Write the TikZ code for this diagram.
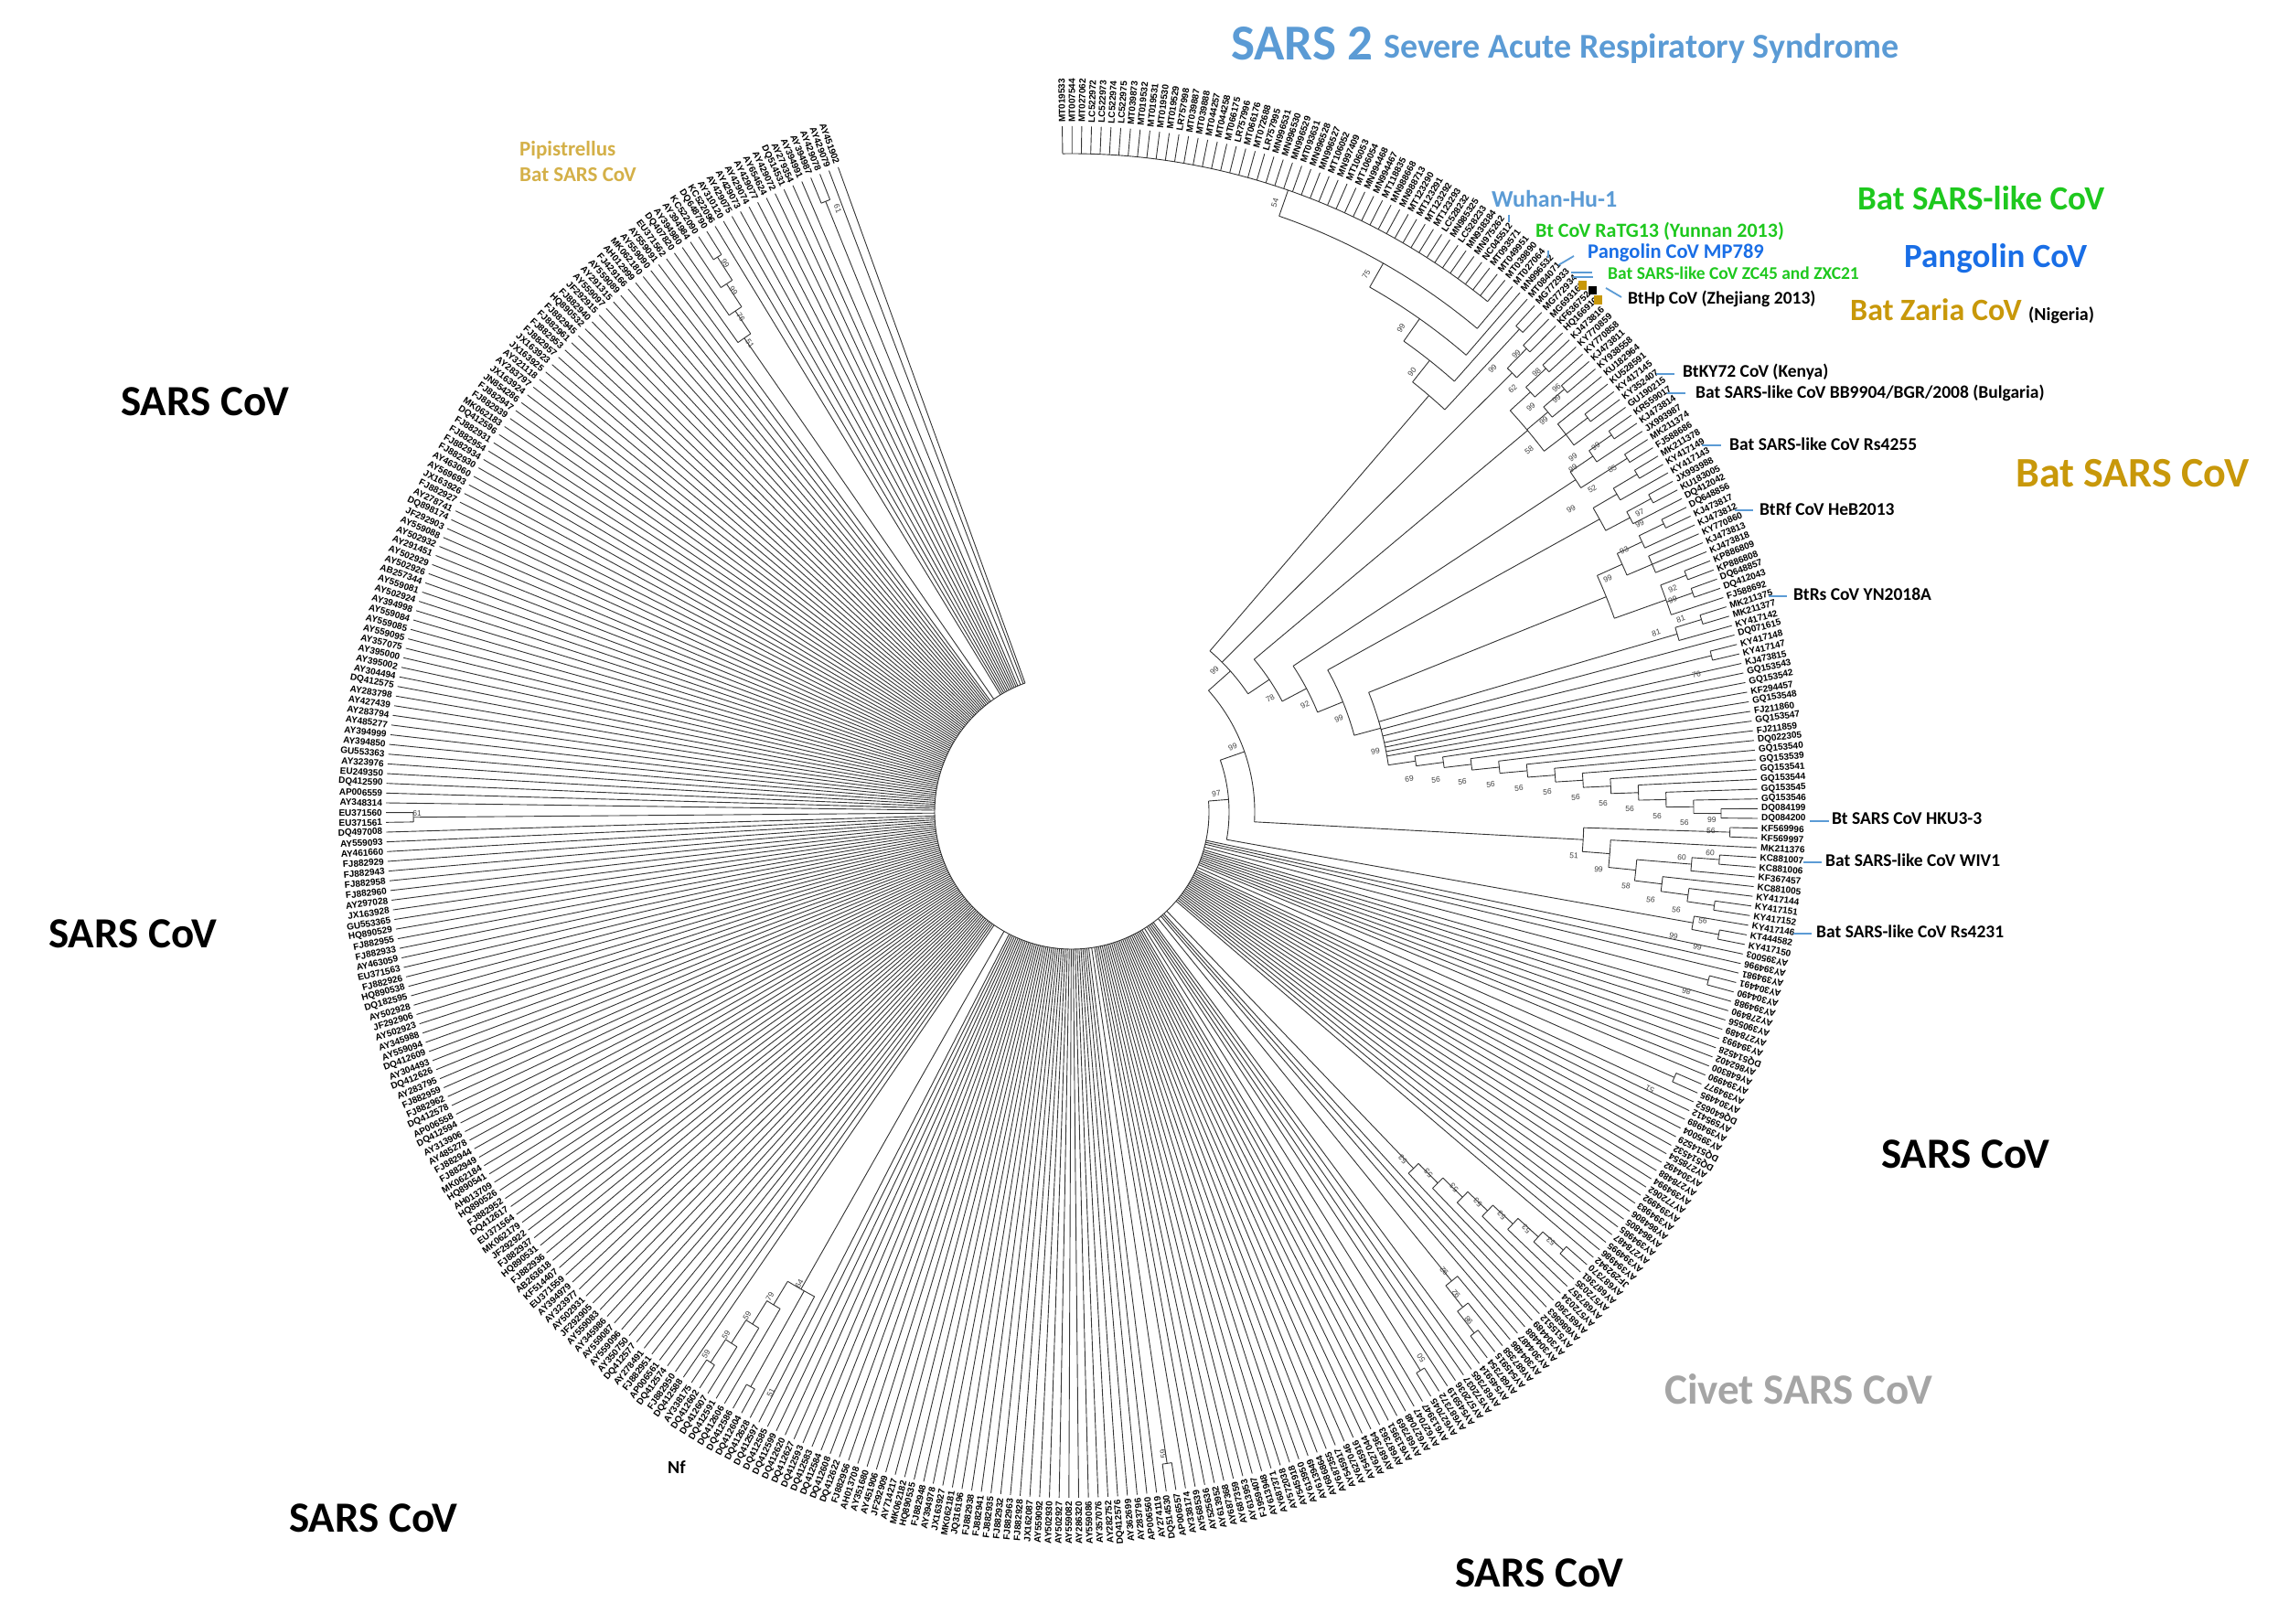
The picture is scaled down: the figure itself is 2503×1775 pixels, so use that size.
\documentclass[tikz,border=0pt]{standalone}
\usepackage{fontspec}
\setmainfont{Liberation Sans}
\newfontfamily\calfont{Carlito}
\newfontfamily\arialf{Liberation Sans}
\definecolor{sarsblue}{RGB}{91,155,213}
\definecolor{batgreen}{RGB}{30,200,30}
\definecolor{pangblue}{RGB}{25,110,230}
\definecolor{batgold}{RGB}{200,152,10}
\definecolor{pipgold}{RGB}{212,176,72}
\definecolor{civgray}{RGB}{165,165,165}
\def\setrz#1#2{\expandafter\gdef\csname rz#1\endcsname{#2}}
\newcommand\LA[1]{90.8-0.8155*(#1)}
\tikzset{
  br/.style={line width=0.9pt, draw=black!80},
  lfr/.style={font=\arialf\bfseries\fontsize{10}{10}\selectfont, inner sep=0pt, anchor=west},
  lfl/.style={font=\arialf\bfseries\fontsize{10}{10}\selectfont, inner sep=0pt, anchor=east},
  bs/.style={font=\arialf\fontsize{8.5}{8.5}\selectfont, inner sep=0pt, text=black!75},
  bigl/.style={font=\calfont\bfseries, inner sep=0pt, anchor=base west},
  ldr/.style={line width=1.8pt, draw=sarsblue}
}
\newcommand\nd[3]{\draw[br] ({\LA{#2}}:#1) arc[start angle={\LA{#2}}, end angle={\LA{#3}}, radius=#1];}
\newcommand\st[3]{\draw[br] ({\LA{#1}}:#2) -- ({\LA{#1}}:#3);}
\setrz{129}{720}\setrz{130}{720}\setrz{140}{720}\setrz{141}{720}
\setrz{162}{720}\setrz{163}{720}\setrz{164}{690}\setrz{165}{660}\setrz{166}{630}\setrz{167}{600}\setrz{168}{570}\setrz{169}{540}
\setrz{173}{660}\setrz{174}{690}\setrz{175}{720}\setrz{176}{720}
\setrz{182}{720}\setrz{183}{720}\setrz{211}{720}\setrz{212}{720}
\setrz{256}{600}\setrz{257}{720}\setrz{258}{720}\setrz{259}{630}\setrz{260}{660}\setrz{261}{690}\setrz{262}{720}\setrz{263}{720}
\setrz{331}{720}\setrz{332}{720}
\setrz{399}{630}\setrz{400}{660}\setrz{401}{690}\setrz{402}{720}\setrz{403}{720}
\setrz{415}{720}\setrz{416}{720}
\begin{document}
\begin{tikzpicture}[x=1pt,y=1pt]
\fill[white] (0,0) rectangle (2503,1775);
\useasboundingbox (0,0) rectangle (2503,1775);
\begin{scope}[shift={(1172,887)}]
% ---------- bat + SARS2 leaves
\foreach \lab/\rz [count=\i from 0] in {MT019533/720,MT007544/720,MT027062/720,LC522972/720,LC522973/720,LC522974/720,LC522975/720,MT039873/720,MT019532/720,MT019531/720,MT019530/720,MT019529/720,LR757998/720,MT039887/720,MT039888/720,MT044257/720,MT044258/720,MT066175/720,LR757996/720,MT066176/720,MT072688/720,LR757995/720,MN996531/720,MN996530/720,MN996529/720,MT093631/720,MN996528/720,MN996527/720,MT106052/720,MN997409/720,MT106053/720,MT106054/720,MN994468/720,MN994467/720,MT118835/720,MN988668/720,MN988713/720,MT123290/720,MT123291/720,MT123292/720,MT123293/720,LC528232/720,MN985325/720,LC528233/720,MN938384/720,MN975262/720,NC045512/720,MT093571/720,MT049951/720,MT039890/720,
MT027064/690,MN996532/660,MT084071/630,MG772933/720,MG772934/720,
MG693168/710,KF636752/710,HQ166910/680,KJ473816/710,KY770859/710,KY770858/680,KJ473811/710,KY938558/710,KU182964/680,KU528591/680,
KY417145/710,KY352407/710,GU190215/680,KR559017/720,KJ473814/720,JX993987/690,MK211374/720,FJ588686/720,MK211378/720,KY417149/720,KY417143/690,JX993988/720,KU183005/720,DQ412042/690,
DQ648856/720,KJ473817/720,KJ473812/690,KY770860/690,KJ473813/690,KJ473818/690,KP886809/720,KP886808/720,DQ648857/720,DQ412043/720,FJ588692/690,
MK211375/720,MK211377/720,KY417142/690,DQ071615/350,KY417148/720,KY417147/720,KJ473815/350,GQ153543/350,GQ153542/350,KF294457/350,
GQ153548/380,FJ211860/410,GQ153547/440,FJ211859/470,DQ022305/500,GQ153540/530,GQ153539/560,GQ153541/590,GQ153544/620,GQ153545/650,GQ153546/680,DQ084199/710,DQ084200/710,
KF569996/720,KF569997/720,MK211376/590,KC881007/710,KC881006/710,KF367457/680,KC881005/650,KY417144/680,KY417151/710,KY417152/710,KY417146/690,KT444582/720,KY417150/720}
{
  \draw[br] ({\LA{\i}}:\rz) -- ({\LA{\i}}:750);
  \node[lfr, rotate={\LA{\i}}] (lf\i) at ({\LA{\i}}:754) {\lab};
}
% ---------- SARS CoV leaves
\foreach \lab [count=\i from 126] in {AY395003,AY394996,AY394981,AY304491,AY304490,AY394988,AY278490,AY390556,AY278489,AY394993,DQ514528,AY862402,AY648300,AY394990,AY394977,AY304495,DQ640652,AY595412,AY394989,AY395004,DQ514529,DQ514532,AY278554,AY304492,AY278488,AY394994,AY772062,AY394992,AY394983,AY864806,AY864805,AY394985,AY278487,AY394995,AY394986,JF292942,AY687370,AY687361,AY572035,AY687357,AY572034,AY687360,AY686863,AY515512,AY304489,AY304488,AY304487,AY304486,AY687358,AY545915,AY687354,AY545914,AY687365,AY572037,AY572036,AY545919,AY687372,AY627045,AY613947,AY627047,AY627048,AY687369,AY613951,AY687363,AY687364,AY627044,AY545916,AY627046,AY545917,AY687355,AY686864,AY613949,AY613950,AY545918,AY572038,AY687371,AY613948,FJ959407,AY613953,AY687359,AY687368,AY613952,AY525636,AY568539,AY338174,AP006557,DQ514530,AY274119,AP006560,AY283796,AY362699,DQ412576,AY282752,AY357076,
AY559086,AY286320,AY559082,AY502927,AY502930,AY559092,JX162087,FJ882928,FJ882963,FJ882932,FJ882935,FJ882941,FJ882938,JQ316196,MK062181,JX163927,AY394978,FJ882948,HQ890535,MK062182,AY714217,JF292909,AY451906,AY351680,AH013708,FJ882956,DQ412622,DQ412608,DQ412584,DQ412583,DQ412593,DQ412627,DQ412620,DQ412599,DQ412585,DQ412597,DQ412628,DQ412604,DQ412586,DQ412606,DQ412591,DQ412607,DQ412602,AY338175,DQ412588,
FJ882950,DQ412574,AP006561,FJ882951,AY278491,DQ412577,AY350750,AY559096,AY559087,AY345986,AY559083,JF292905,AY502931,AY323977,AY394979,EU371559,KF514407,AB263618,FJ882936,HQ890531,FJ882937,JF292922,MK062179,EU371564,DQ412617,FJ882952,HQ890526,AH013709,HQ890541,MK062184,FJ882949,FJ882944,AY485278,AY313906,DQ412594,AP006558,DQ412578,FJ882962,FJ882959,AY283795,DQ412626,AY304493,DQ412609,AY559094,AY345988,AY502923,JF292906,AY502928,DQ182595,HQ890538,
FJ882926,EU371563,AY463059,FJ882933,FJ882955,HQ890529,GU553365,JX163928,AY297028,FJ882960,FJ882958,FJ882943,FJ882929,AY461660,AY559093,DQ497008,EU371561,EU371560,AY348314,AP006559,DQ412590,EU249350,AY323976,GU553363,AY394850,AY394999,AY485277,AY283794,AY427439,AY283798,DQ412575,AY304494,AY395002,AY395000,AY357075,AY559095,AY559085,AY559084,
AY394998,AY502924,AY559081,AB257344,AY502926,AY502929,AY291451,AY502932,AY559088,JF292903,DQ898174,AY278741,FJ882927,JX163926,AY569693,AY463060,FJ882930,FJ882934,FJ882954,FJ882931,DQ412596,MK062183,FJ882939,FJ882947,JN854286,JX163924,AY283797,AY321118,JX163925,JX163923,FJ882957,FJ882953,FJ882961,FJ882945,HQ890532,FJ882940,JF292915,AY559097,AY291315,AY559089,FJ429166,AH012999,MK062180,AY559090,AY559091,EU371562,DQ407820,AY394980,AY394984,KC522090,DQ648790,KC522096,AY310120,AY429075,AY429073,AY429074,AY429077,AY654624,AY429072,DQ514531,AY279354,AY394991,AY394987,AY429078,AY429079,AY451902}
{
  \ifcsname rz\i\endcsname \edef\rr{\csname rz\i\endcsname}\else\def\rr{150}\fi
  \draw[br] ({\LA{\i}}:\rr) -- ({\LA{\i}}:750);
  \node[lfl, rotate={\LA{\i}+180}] (lf\i) at ({\LA{\i}}:754) {\lab};
}
% ---------- SARS2 clade
\nd{720}{0}{49} \st{24.5}{690}{720}
\nd{690}{24.5}{50} \st{37.25}{660}{690}
\nd{660}{37.25}{51} \st{44.125}{630}{660}
\nd{630}{44.125}{52} \st{48.0625}{600}{630}
\nd{720}{53}{54} \st{53.5}{600}{720}
\nd{600}{48.0625}{53.5} \st{50.78}{232}{600}
% ---------- AFa (under N99b)
\nd{710}{55}{56} \st{55.5}{680}{710} \nd{680}{55.5}{57} \st{56.25}{232}{680}
% ---------- AFb (under N78)
\nd{710}{58}{59} \st{58.5}{680}{710} \nd{680}{58.5}{60} \st{59.25}{650}{680}
\nd{710}{61}{62} \st{61.5}{680}{710} \nd{680}{61.5}{63} \st{62.25}{650}{680}
\nd{710}{65}{66} \st{65.5}{680}{710} \nd{680}{64}{67} \st{65.5}{650}{680}
\nd{650}{59.25}{65.5} \st{62.375}{260}{650}
% ---------- G2 (under N92)
\nd{720}{68}{69} \st{68.5}{690}{720} \nd{690}{68.5}{70} \st{69.25}{660}{690}
\nd{720}{71}{72} \st{71.5}{660}{720}
\nd{660}{69.25}{71.5} \st{70.375}{290}{660}
% ---------- G3 (under N99d)
\nd{720}{73}{74} \st{73.5}{690}{720} \nd{690}{73.5}{75} \st{74.25}{660}{690}
\nd{720}{76}{77} \st{76.5}{690}{720} \nd{690}{76.5}{78} \st{77.25}{660}{690}
\nd{660}{74.25}{77.25} \st{75.75}{320}{660}
% ---------- G4 (under N99e)
\nd{720}{79}{80} \st{79.5}{690}{720} \nd{690}{79.5}{81} \st{80.25}{660}{690}
\nd{690}{82}{84} \st{83}{660}{690}
\nd{660}{80.25}{83} \st{81.625}{630}{660}
\nd{720}{85}{86} \st{85.5}{690}{720} \nd{720}{87}{88} \st{87.5}{690}{720}
\nd{690}{85.5}{89} \st{87.25}{630}{690}
\nd{630}{81.625}{87.25} \st{84.44}{350}{630}
% ---------- N99e group
\nd{720}{90}{91} \st{90.5}{690}{720} \nd{690}{90.5}{92} \st{91.25}{350}{690}
\nd{720}{94}{95} \st{94.5}{350}{720}
\foreach \j/\nx in {0/101.9995,1/102.999,2/103.998,3/104.996,4/105.992,5/106.984,6/107.969,7/108.938,8/109.875,9/110.75,10/111.5}{
  \pgfmathsetmacro\ra{380+30*\j}\pgfmathsetmacro\rb{410+30*\j}
  \nd{\ra}{100+\j}{\nx} \st{\nx}{\ra}{\rb}
}
\nd{710}{111}{112}
\st{101}{350}{380}
\nd{350}{84.44}{101} \st{92.72}{320}{350}
% ---------- backbone
\nd{320}{75.75}{92.72} \st{84.235}{290}{320}
\nd{290}{70.375}{84.235} \st{77.305}{260}{290}
\nd{260}{62.375}{77.305} \st{69.84}{232}{260}
\nd{232}{50.78}{69.84} \st{60.31}{200}{232}
% ---------- N51 group
\nd{720}{113}{114} \st{113.5}{560}{720}
\nd{710}{116}{117} \st{116.5}{680}{710} \nd{680}{116.5}{118} \st{117.25}{620}{680}
\nd{710}{121}{122} \st{121.5}{680}{710} \nd{680}{120}{121.5} \st{120.75}{650}{680}
\nd{650}{119}{120.75} \st{119.875}{620}{650}
\nd{620}{117.25}{119.875} \st{118.5625}{590}{620}
\nd{590}{115}{118.5625} \st{116.78}{560}{590}
\nd{560}{113.5}{116.78} \st{115.14}{200}{560}
\nd{200}{60.31}{115.14} \st{87.725}{172}{200}
\nd{720}{124}{125} \st{124.5}{690}{720} \nd{690}{123}{124.5} \st{123.75}{172}{690}
\nd{172}{87.725}{123.75} \st{105.74}{150}{172}
% ---------- central node
\nd{150}{105.74}{418}
% ---------- SARS CoV sub-clades
\nd{720}{129}{130} \st{129.5}{150}{720}
\nd{720}{140}{141} \st{140.5}{150}{720}
\nd{720}{162}{163} \st{162.5}{690}{720}
\nd{690}{162.5}{164} \st{163.25}{660}{690}
\nd{660}{163.25}{165} \st{164.125}{630}{660}
\nd{630}{164.125}{166} \st{165.0625}{600}{630}
\nd{600}{165.0625}{167} \st{166.03}{570}{600}
\nd{570}{166.03}{168} \st{167.016}{540}{570}
\nd{540}{167.016}{169} \st{168.008}{150}{540}
\nd{720}{175}{176} \st{175.5}{690}{720}
\nd{690}{174}{175.5} \st{174.75}{660}{690}
\nd{660}{173}{174.75} \st{173.875}{150}{660}
\nd{720}{182}{183} \st{182.5}{150}{720}
\nd{720}{211}{212} \st{211.5}{150}{720}
\nd{720}{262}{263} \st{262.5}{690}{720}
\nd{690}{261}{262.5} \st{261.75}{660}{690}
\nd{660}{260}{261.75} \st{260.875}{630}{660}
\nd{630}{259}{260.875} \st{259.94}{600}{630}
\nd{720}{257}{258} \st{257.5}{600}{720}
\nd{600}{256}{259.94} \st{257.97}{150}{600}
\nd{720}{331}{332} \st{331.5}{150}{720}
\nd{720}{402}{403} \st{402.5}{690}{720}
\nd{690}{401}{402.5} \st{401.75}{660}{690}
\nd{660}{400}{401.75} \st{400.875}{630}{660}
\nd{630}{399}{400.875} \st{399.94}{150}{630}
\nd{720}{415}{416} \st{415.5}{150}{720}
\end{scope}
% ---------- bootstrap values
\foreach \bx/\by/\bt/\br [count=\n] in {1330/868/97/7,1348/817/99/22,1328/733/99/45,1389/764/78/30,1427/771/92/25,1464/786/99/19,1504/822/99/11,
1541/852/69/6,1570/853/56/5,1599/855/56/4,1630/858/56/4,1661/862/56/3,1692/866/56/2,1723/872/56/2,1753/879/56/1,1782/885/56/0,1812/893/56/0,1842/900/56/-1,1872/897/99/-1,1871/909/56/-1,
1721/936/51/-5,1748/951/99/-6,1839/938/60/-4,1870/933/60/-4,1778/969/58/-8,1805/984/56/-9,1833/995/56/-9,1862/1007/56/-10,1830/1024/99/-12,1856/1036/99/-12,
1838/677/81/18,1811/692/81/17,1855/738/76/12,1829/644/92/20,1829/656/99/20,1758/633/99/23,1776/602/93/25,1793/561/97/27,1793/573/99/27,1718/557/99/31,1741/535/52/32,1763/513/85/32,1720/500/99/35,1720/512/99/35,1745/488/99/35,1672/492/58/38,1688/460/99/40,1702/424/96/41,1702/436/99/41,1674/445/99/41,1654/425/62/44,1680/407/98/43,1632/403/99/46,1658/387/99/46,
1394/222/54/72,1494/300/75/61,1532/359/99/56,1544/407/90/52,
1844/1084/86/164,1804/1191/51/154,1534/1268/53/134,1562/1283/53/135,1590/1299/53/135,1616/1315/53/136,1642/1329/53/137,1669/1344/53/137,1696/1358/53/138,1579/1390/92/129,1592/1415/92/129,1606/1444/98/128,1554/1485/50/123,1272/1590/59/98,
874/1404/64/60,842/1418/79/58,817/1439/59/57,794/1460/59/57,772/1481/59/56,843/1523/51/63,456/890/61/0,
916/228/61/-69,793/288/99/-58,802/318/99/-57,810/347/76/-56,820/376/51/-55}
{ \node[bs, rotate=\br] (bs\n) at (\bx,1775-\by) {\bt}; }
% ---------- group labels
\node[bigl, text=sarsblue, font=\calfont\bfseries\fontsize{55}{55}\selectfont] (sars2) at (1346,1775-66) {SARS 2};
\node[bigl, text=sarsblue, font=\calfont\bfseries\fontsize{38}{38}\selectfont] (sars2b) at (1513,1775-64) {Severe Acute Respiratory Syndrome};
\node[bigl, text=batgreen, font=\calfont\bfseries\fontsize{37}{37}\selectfont] (batsl) at (2031,1775-230) {Bat SARS-like CoV};
\node[bigl, text=pangblue, font=\calfont\bfseries\fontsize{37}{37}\selectfont] (pang) at (2082,1775-293) {Pangolin CoV};
\node[bigl, text=batgold, font=\calfont\bfseries\fontsize{34}{34}\selectfont] (zaria) at (2023,1775-351) {Bat Zaria CoV};
\node[bigl, font=\calfont\bfseries\fontsize{20}{20}\selectfont] (nig) at (2218,1775-351) {(Nigeria)};
\node[bigl, text=batgold, font=\calfont\bfseries\fontsize{46}{46}\selectfont] (batsars) at (2204,1775-533) {Bat SARS CoV};
\node[bigl, text=civgray, font=\calfont\bfseries\fontsize{47}{47}\selectfont] (civet) at (1820,1775-1536) {Civet SARS CoV};
\foreach \sx/\sy [count=\n] in {132/455,53/1037,2057/1278,316/1676,1591/1735}
{ \node[bigl, font=\calfont\bfseries\fontsize{47}{47}\selectfont] (sc\n) at (\sx,1775-\sy) {SARS CoV}; }
\node[bigl, text=pipgold, font=\calfont\bfseries\fontsize{23}{23}\selectfont] (pip1) at (568,1775-171) {Pipistrellus};
\node[bigl, text=pipgold, font=\calfont\bfseries\fontsize{23}{23}\selectfont] (pip2) at (568,1775-199) {Bat SARS CoV};
\node[bigl, font=\calfont\bfseries\fontsize{20}{20}\selectfont] (nf) at (730,1775-1612) {Nf};
% ---------- strain labels
\node[bigl, text=sarsblue, font=\calfont\bfseries\fontsize{26}{26}\selectfont] (wuhan) at (1631,1775-227) {Wuhan-Hu-1};
\node[bigl, text=batgreen, font=\calfont\bfseries\fontsize{22}{22}\selectfont] (ratg) at (1679,1775-260) {Bt CoV RaTG13 (Yunnan 2013)};
\node[bigl, text=pangblue, font=\calfont\bfseries\fontsize{22.5}{22.5}\selectfont] (mp) at (1736,1775-283) {Pangolin CoV MP789};
\node[bigl, text=batgreen, font=\calfont\bfseries\fontsize{19.5}{19.5}\selectfont] (zc) at (1758,1775-306) {Bat SARS-like CoV ZC45 and ZXC21};
\node[bigl, font=\calfont\bfseries\fontsize{19.5}{19.5}\selectfont] (bthp) at (1780,1775-333) {BtHp CoV (Zhejiang 2013)};
\node[bigl, font=\calfont\bfseries\fontsize{19.5}{19.5}\selectfont] (ky72) at (1840,1775-413) {BtKY72 CoV (Kenya)};
\node[bigl, font=\calfont\bfseries\fontsize{19.5}{19.5}\selectfont] (bgr) at (1854,1775-436) {Bat SARS-like CoV BB9904/BGR/2008 (Bulgaria)};
\node[bigl, font=\calfont\bfseries\fontsize{19.5}{19.5}\selectfont] (rs55) at (1891,1775-493) {Bat SARS-like CoV Rs4255};
\node[bigl, font=\calfont\bfseries\fontsize{19.5}{19.5}\selectfont] (heb) at (1924,1775-564) {BtRf CoV HeB2013};
\node[bigl, font=\calfont\bfseries\fontsize{19.5}{19.5}\selectfont] (yn) at (1961,1775-657) {BtRs CoV YN2018A};
\node[bigl, font=\calfont\bfseries\fontsize{19.5}{19.5}\selectfont] (hku) at (2003,1775-902) {Bt SARS CoV HKU3-3};
\node[bigl, font=\calfont\bfseries\fontsize{19.5}{19.5}\selectfont] (wiv) at (1996,1775-948) {Bat SARS-like CoV WIV1};
\node[bigl, font=\calfont\bfseries\fontsize{19.5}{19.5}\selectfont] (rs31) at (1986,1775-1026) {Bat SARS-like CoV Rs4231};
% ---------- leader lines
\foreach \ax/\ay/\bx/\by [count=\n] in {1650/235/1650/243,1693/274/1693/282,1704/290/1721/280,1718/298/1741/298,1720/303/1742/303,1756/315/1773/325,1811/409/1831/409,1823/430/1843/430,1861/487/1882/487,1897/558/1917/558,1934/652/1954/652,1979/898/2000/898,1972/943/1992/943,1961/1021/1981/1021}
{ \coordinate (la\n) at (\ax,1775-\ay); \coordinate (lb\n) at (\bx,1775-\by); \draw[ldr] (la\n) -- (lb\n); }
% ---------- markers
\fill[batgold] (1726,1775-307) rectangle (1735,1775-317);
\fill[black] (1737,1775-313) rectangle (1746,1775-322);
\fill[batgold] (1743,1775-323) rectangle (1752,1775-333);
\end{tikzpicture}
\end{document}
